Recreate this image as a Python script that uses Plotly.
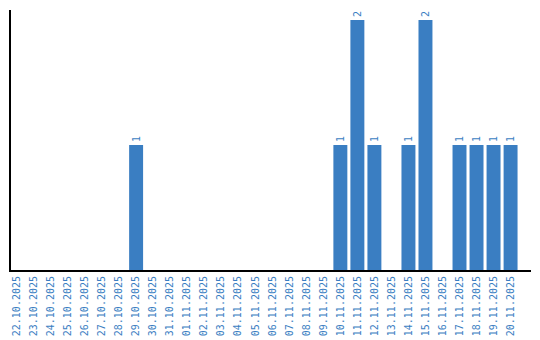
import plotly.graph_objects as go

dates = ["22.10.2025","23.10.2025","24.10.2025","25.10.2025","26.10.2025","27.10.2025",
         "28.10.2025","29.10.2025","30.10.2025","31.10.2025","01.11.2025","02.11.2025",
         "03.11.2025","04.11.2025","05.11.2025","06.11.2025","07.11.2025","08.11.2025",
         "09.11.2025","10.11.2025","11.11.2025","12.11.2025","13.11.2025","14.11.2025",
         "15.11.2025","16.11.2025","17.11.2025","18.11.2025","19.11.2025","20.11.2025"]
counts = [0,0,0,0,0,0,0,1,0,0,0,0,0,0,0,0,0,0,0,1,2,1,0,1,2,0,1,1,1,1]

labels = [str(c) if c > 0 else "" for c in counts]
blue = "#3a7ec2"

fig = go.Figure(go.Bar(
    x=list(range(len(dates))), y=counts, text=labels,
    textposition="outside", textangle=-90,
    textfont=dict(family="DejaVu Sans Mono", size=10, color=blue),
    marker=dict(color=blue, line=dict(width=0)),
    width=0.82, cliponaxis=False,
))
fig.update_layout(
    width=540, height=340,
    margin=dict(l=11, r=9, t=10, b=70, autoexpand=False),
    paper_bgcolor="white", plot_bgcolor="white",
    showlegend=False,
    xaxis=dict(tickmode="array", tickvals=list(range(len(dates))), ticktext=dates,
               tickangle=-90, tickfont=dict(family="DejaVu Sans Mono", size=10, color=blue),
               ticklabelstandoff=0, automargin=False,
               range=[-0.35, 30.2], showgrid=False, showline=True, linecolor="black",
               linewidth=2, ticks="", zeroline=False),
    yaxis=dict(range=[0, 2.08], showgrid=False, showline=True, linecolor="black",
               linewidth=2, showticklabels=False, ticks="", zeroline=False,
               automargin=False),
)
fig.write_html("out.html")
